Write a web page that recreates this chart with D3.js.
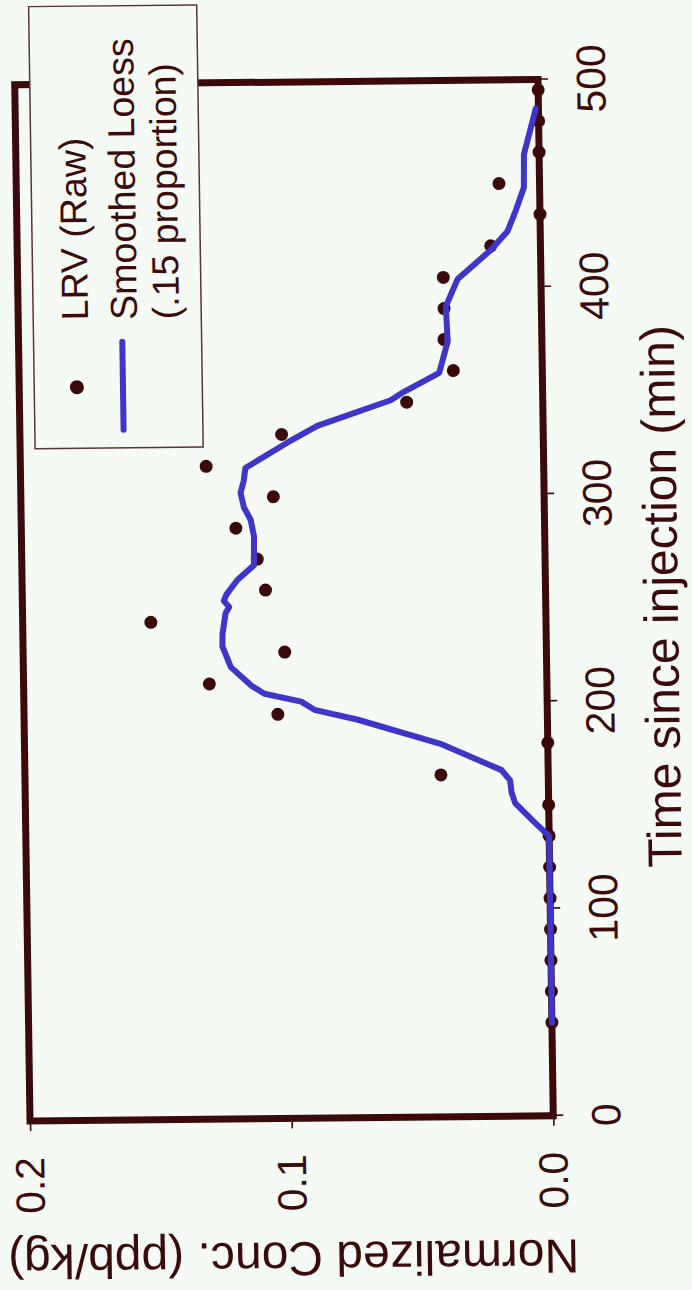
<!DOCTYPE html>
<html>
<head>
<meta charset="utf-8">
<script src="https://cdn.jsdelivr.net/npm/d3@7"></script>
<style>
  html, body { margin: 0; padding: 0; background: #f5faf4; }
  svg { display: block; }
</style>
</head>
<body>
<svg id="chart" width="692" height="1290"></svg>
<script>
// Sampling times (min) and raw LRV concentrations (ppb/kg)
const sampleTimes = [45, 60, 75, 90, 105, 120, 135, 150, 165, 180, 195, 210, 225, 240, 255,
                     270, 285, 300, 315, 330, 345, 360, 375, 390, 405, 420, 435, 450, 465, 480, 495];
const lrvRaw = [0, 0, 0, 0, 0, 0, 0, 0, 0.041, 0, 0.103, 0.129, 0.100, 0.151, 0.107,
                0.110, 0.118, 0.1035, 0.129, 0.100, 0.052, 0.034, 0.0374, 0.0372, 0.0373, 0.019, 0, 0.0155, 0, 0, 0];

// Loess fit (0.15 span) traced along the time axis
const loessTimes = [45, 135, 141, 151, 156, 162, 167, 180, 192, 197,
                    201, 205, 209, 218, 228, 234, 244, 247, 250, 253,
                    260, 267, 281, 289, 295, 302, 308, 314, 326, 334,
                    346, 350, 359, 374, 391, 404, 418, 427, 437, 448,
                    464, 486];
const loessConc = [0, 0, 0.005, 0.0128, 0.0141, 0.0146, 0.0178, 0.041, 0.0724, 0.089,
                   0.094, 0.108, 0.113, 0.1207, 0.1238, 0.1237, 0.1224, 0.121, 0.123, 0.122,
                   0.1177, 0.1113, 0.1111, 0.1123, 0.1148, 0.116, 0.1147, 0.114, 0.0979, 0.0863,
                   0.0581, 0.053, 0.0394, 0.036, 0.0365, 0.0319, 0.019, 0.0125, 0.0092, 0.006,
                   0.0058, 0.001];

const timeTicks = [0, 100, 200, 300, 400, 500];
const concTicks = [0, 0.1, 0.2];
const legendLines = ["LRV (Raw)", "Smoothed Loess", "(.15 proportion)"];
const xTitle = "Time since injection (min)";
const yTitle = "Normalized Conc. (ppb/kg)";

// ---- styling ----
const ink = "#3b0b0b";
const lineBlue = "#3f36c9";
const paper = "#f5faf4";
const font = "'Liberation Sans', Arial, Helvetica, sans-serif";

const W = 1036, H = 523;   // plot area in landscape orientation

const svg = d3.select("#chart");
svg.append("rect").attr("width", 692).attr("height", 1290).attr("fill", paper);

// The landscape figure is turned a quarter turn onto the portrait sheet
// (with the slight skew it was mounted at).
const g = svg.append("g")
  .attr("transform", "matrix(-0.01472,-1.0002,1.0005,-0.01004,30,1121)");

const x = d3.scaleLinear().domain([0, 500]).range([0, W]);
const y = d3.scaleLinear().domain([0, 0.2]).range([H, 0]);

// Time axis (ticks outside the frame)
const xAxis = g.append("g")
  .attr("transform", `translate(0,${H})`)
  .call(d3.axisBottom(x).tickValues(timeTicks).tickFormat(d3.format("d"))
        .tickSizeInner(10).tickSizeOuter(0).tickPadding(28));
xAxis.select(".domain").remove();
xAxis.attr("font-family", font).attr("font-size", 41);
xAxis.selectAll("line").attr("stroke", ink).attr("stroke-width", 1.6);
xAxis.selectAll("text").attr("fill", ink);

// Concentration axis
const yAxis = g.append("g")
  .call(d3.axisLeft(y).tickValues(concTicks).tickFormat(d3.format(".1f"))
        .tickSizeInner(10).tickSizeOuter(0).tickPadding(26));
yAxis.select(".domain").remove();
yAxis.attr("font-family", font).attr("font-size", 41);
yAxis.selectAll("line").attr("stroke", ink).attr("stroke-width", 1.6);
yAxis.selectAll("text").attr("fill", ink);

// Heavy frame
g.append("rect")
  .attr("x", 0).attr("y", 0).attr("width", W).attr("height", H)
  .attr("fill", "none").attr("stroke", ink).attr("stroke-width", 7);

// Raw samples
const raw = sampleTimes.map((t, i) => [t, lrvRaw[i]]);
g.append("g").selectAll("circle")
  .data(raw).join("circle")
  .attr("cx", d => x(d[0])).attr("cy", d => y(d[1]))
  .attr("r", 6.5).attr("fill", ink);

// Smoothed curve
const smooth = loessTimes.map((t, i) => [t, loessConc[i]]);
g.append("path")
  .datum(smooth)
  .attr("d", d3.line().x(d => x(d[0])).y(d => y(d[1])))
  .attr("fill", "none").attr("stroke", lineBlue).attr("stroke-width", 6)
  .attr("stroke-linejoin", "round").attr("stroke-linecap", "round");

// Axis titles
g.append("text")
  .attr("x", W / 2).attr("y", 655)
  .attr("text-anchor", "middle")
  .attr("font-family", font).attr("font-size", 48).attr("fill", ink)
  .text(xTitle);

g.append("text")
  .attr("transform", `translate(-124,${H / 2}) rotate(-90)`)
  .attr("text-anchor", "middle")
  .attr("font-family", font).attr("font-size", 48).attr("fill", ink)
  .text(yTitle);

// Legend
const lg = g.append("g");
lg.append("rect")
  .attr("x", 672).attr("y", 15).attr("width", 442).attr("height", 168)
  .attr("fill", paper).attr("stroke", "#5a3535").attr("stroke-width", 1.5);
lg.append("circle").attr("cx", 733).attr("cy", 57.7).attr("r", 7).attr("fill", ink);
lg.append("line")
  .attr("x1", 690).attr("x2", 778).attr("y1", 103.7).attr("y2", 103.7)
  .attr("stroke", lineBlue).attr("stroke-width", 6).attr("stroke-linecap", "round");
const legendY = [69.7, 118.7, 160.7];
lg.selectAll("text.leg")
  .data(legendLines).join("text")
  .attr("class", "leg")
  .attr("x", 800).attr("y", (d, i) => legendY[i])
  .attr("font-family", font).attr("font-size", 37.5).attr("fill", ink)
  .text(d => d);
</script>
</body>
</html>
